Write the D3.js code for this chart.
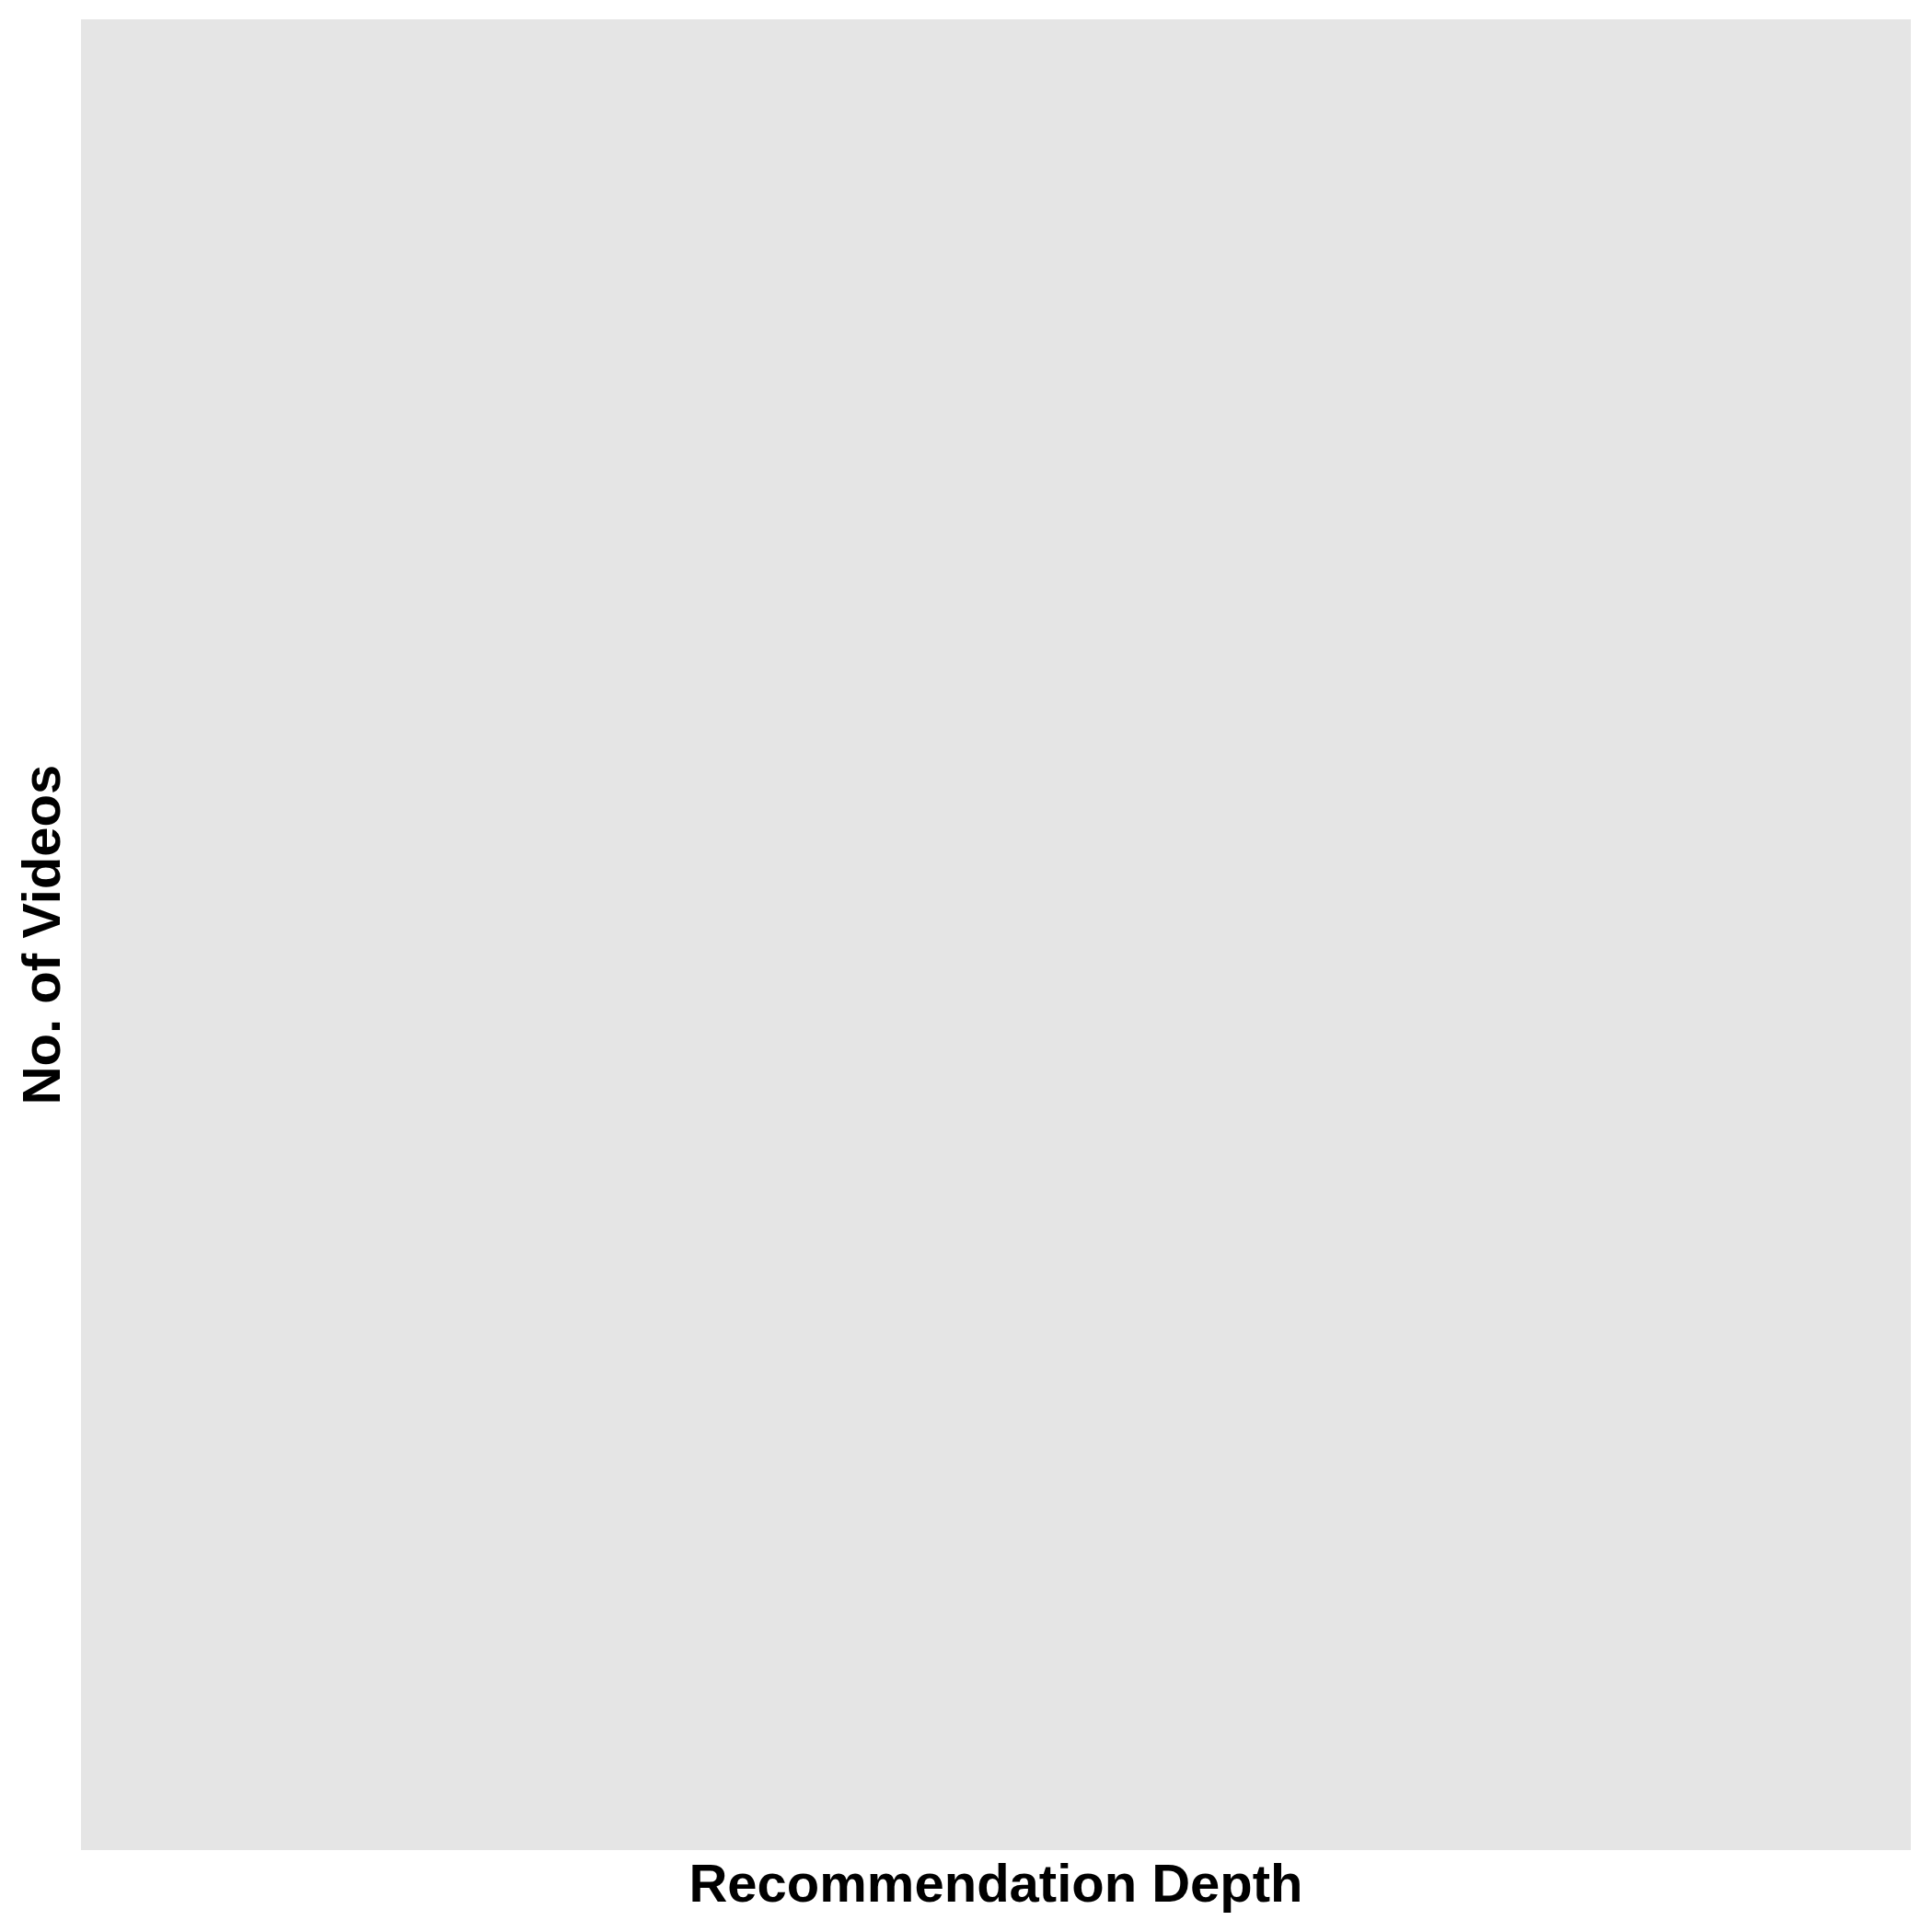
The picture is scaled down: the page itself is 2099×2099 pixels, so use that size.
<!DOCTYPE html>
<html>
<head>
<meta charset="utf-8">
<script src="https://cdn.jsdelivr.net/npm/d3@7"></script>
<style>
  html, body { margin: 0; padding: 0; background: #ffffff; }
  svg { display: block; }
</style>
</head>
<body>
<div id="chart"></div>
<script>
// data - the source plot shows an empty panel (no marks, no tick labels)
const depths = []
const videoCounts = []
const xTickLabels = []
const yTickLabels = []

const width = 2099
const height = 2099
const margin = {top: 21, right: 23, bottom: 89, left: 88}
const innerW = width - margin.left - margin.right
const innerH = height - margin.top - margin.bottom

const svg = d3.select('#chart')
  .append('svg')
  .attr('width', width)
  .attr('height', height)

svg.append('rect')
  .attr('width', width)
  .attr('height', height)
  .attr('fill', '#ffffff')

const g = svg.append('g')
  .attr('transform', `translate(${margin.left},${margin.top})`)

// panel background
g.append('rect')
  .attr('class', 'panel')
  .attr('width', innerW)
  .attr('height', innerH)
  .attr('fill', '#e5e5e5')

// scales
const x = d3.scaleBand()
  .domain(depths)
  .range([0, innerW])
  .padding(0.1)

const y = d3.scaleLinear()
  .domain([0, d3.max(videoCounts) || 1])
  .range([innerH, 0])

// bars (none in the reference)
g.selectAll('rect.bar')
  .data(depths.map((d, i) => ({depth: d, value: videoCounts[i]})))
  .join('rect')
  .attr('class', 'bar')
  .attr('x', (d) => x(d.depth))
  .attr('y', (d) => y(d.value))
  .attr('width', x.bandwidth())
  .attr('height', (d) => innerH - y(d.value))
  .attr('fill', '#595959')

// axes without ticks, as in the reference
const xAxis = g.append('g')
  .attr('transform', `translate(0,${innerH})`)
  .call(d3.axisBottom(x).tickValues(xTickLabels).tickSize(0))
xAxis.select('.domain').remove()

const yAxis = g.append('g')
  .call(d3.axisLeft(y).tickValues(yTickLabels).tickSize(0))
yAxis.select('.domain').remove()

// axis titles
svg.append('text')
  .attr('x', margin.left + innerW / 2)
  .attr('y', 2066)
  .attr('text-anchor', 'middle')
  .attr('font-family', 'Liberation Sans, Arial, sans-serif')
  .attr('font-weight', 'bold')
  .attr('font-size', 58)
  .attr('fill', '#000000')
  .text('Recommendation Depth')

svg.append('text')
  .attr('transform', `translate(65,${margin.top + innerH / 2}) rotate(-90)`)
  .attr('text-anchor', 'middle')
  .attr('font-family', 'Liberation Sans, Arial, sans-serif')
  .attr('font-weight', 'bold')
  .attr('font-size', 58)
  .attr('fill', '#000000')
  .text('No. of Videos')
</script>
</body>
</html>
